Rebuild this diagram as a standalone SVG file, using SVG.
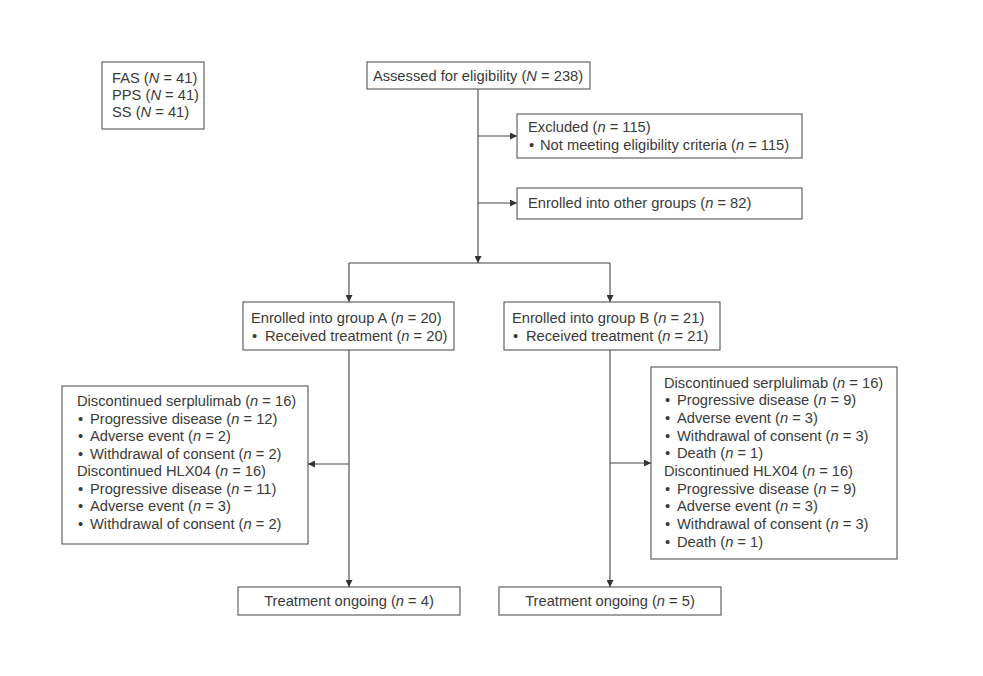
<svg xmlns="http://www.w3.org/2000/svg" width="983" height="676" viewBox="0 0 983 676">
<style>
.box{fill:#fff;stroke:#555;stroke-width:1.1}
text{font-family:"Liberation Sans",Arial,sans-serif;font-size:14.7px;fill:#3a3a3a}
.i{font-style:italic}
.c{text-anchor:middle}
.ln{fill:none;stroke:#444;stroke-width:1.1}
</style>
<defs>
<marker id="ah" viewBox="0 0 10 10" refX="10" refY="5" markerWidth="7" markerHeight="7" markerUnits="userSpaceOnUse" orient="auto">
<path d="M0,0 L10,5 L0,10 z" fill="#333"/>
</marker>
</defs>
<rect width="983" height="676" fill="#fff"/>

<g id="connectors">
<path class="ln" d="M478,89 V263" marker-end="url(#ah)"/>
<path class="ln" d="M349,263 H610"/>
<path class="ln" d="M349,263 V302" marker-end="url(#ah)"/>
<path class="ln" d="M610,263 V302" marker-end="url(#ah)"/>
<path class="ln" d="M478,136 H517" marker-end="url(#ah)"/>
<path class="ln" d="M478,203 H517" marker-end="url(#ah)"/>
<path class="ln" d="M349,350 V587" marker-end="url(#ah)"/>
<path class="ln" d="M349,464 H308" marker-end="url(#ah)"/>
<path class="ln" d="M610,350 V587" marker-end="url(#ah)"/>
<path class="ln" d="M610,463 H651" marker-end="url(#ah)"/>
</g>

<g id="sets">
<rect class="box" x="102" y="62" width="102" height="67"/>
<text x="112" y="83">FAS (<tspan class="i">N</tspan> = 41)</text>
<text x="112" y="100">PPS (<tspan class="i">N</tspan> = 41)</text>
<text x="112" y="117">SS (<tspan class="i">N</tspan> = 41)</text>
</g>

<g id="assessed">
<rect class="box" x="367" y="62" width="223" height="27"/>
<text x="478" y="81" class="c">Assessed for eligibility (<tspan class="i">N</tspan> = 238)</text>
</g>

<g id="excluded">
<rect class="box" x="517" y="114" width="285" height="44"/>
<text x="528" y="132">Excluded (<tspan class="i">n</tspan> = 115)</text>
<text x="529" y="150">•</text><text x="540" y="150">Not meeting eligibility criteria (<tspan class="i">n</tspan> = 115)</text>
</g>

<g id="other">
<rect class="box" x="517" y="188" width="285" height="31"/>
<text x="528" y="208">Enrolled into other groups (<tspan class="i">n</tspan> = 82)</text>
</g>

<g id="groupA">
<rect class="box" x="243" y="302" width="211" height="48"/>
<text x="251" y="323">Enrolled into group A (<tspan class="i">n</tspan> = 20)</text>
<text x="252" y="341">•</text><text x="265" y="341">Received treatment (<tspan class="i">n</tspan> = 20)</text>
</g>

<g id="groupB">
<rect class="box" x="504" y="302" width="216" height="48"/>
<text x="512" y="323">Enrolled into group B (<tspan class="i">n</tspan> = 21)</text>
<text x="513" y="341">•</text><text x="526" y="341">Received treatment (<tspan class="i">n</tspan> = 21)</text>
</g>

<g id="discA">
<rect class="box" x="62" y="386" width="246" height="158"/>
<text x="77" y="406">Discontinued serplulimab (<tspan class="i">n</tspan> = 16)</text>
<text x="78" y="423.5">•</text><text x="90" y="423.5">Progressive disease (<tspan class="i">n</tspan> = 12)</text>
<text x="78" y="441">•</text><text x="90" y="441">Adverse event (<tspan class="i">n</tspan> = 2)</text>
<text x="78" y="458.5">•</text><text x="90" y="458.5">Withdrawal of consent (<tspan class="i">n</tspan> = 2)</text>
<text x="77" y="476">Discontinued HLX04 (<tspan class="i">n</tspan> = 16)</text>
<text x="78" y="493.5">•</text><text x="90" y="493.5">Progressive disease (<tspan class="i">n</tspan> = 11)</text>
<text x="78" y="511">•</text><text x="90" y="511">Adverse event (<tspan class="i">n</tspan> = 3)</text>
<text x="78" y="528.5">•</text><text x="90" y="528.5">Withdrawal of consent (<tspan class="i">n</tspan> = 2)</text>
</g>

<g id="discB">
<rect class="box" x="651" y="367" width="246" height="192"/>
<text x="664" y="387.5">Discontinued serplulimab (<tspan class="i">n</tspan> = 16)</text>
<text x="665" y="405">•</text><text x="677" y="405">Progressive disease (<tspan class="i">n</tspan> = 9)</text>
<text x="665" y="423">•</text><text x="677" y="423">Adverse event (<tspan class="i">n</tspan> = 3)</text>
<text x="665" y="440.5">•</text><text x="677" y="440.5">Withdrawal of consent (<tspan class="i">n</tspan> = 3)</text>
<text x="665" y="458">•</text><text x="677" y="458">Death (<tspan class="i">n</tspan> = 1)</text>
<text x="664" y="476">Discontinued HLX04 (<tspan class="i">n</tspan> = 16)</text>
<text x="665" y="493.5">•</text><text x="677" y="493.5">Progressive disease (<tspan class="i">n</tspan> = 9)</text>
<text x="665" y="511">•</text><text x="677" y="511">Adverse event (<tspan class="i">n</tspan> = 3)</text>
<text x="665" y="529">•</text><text x="677" y="529">Withdrawal of consent (<tspan class="i">n</tspan> = 3)</text>
<text x="665" y="546.5">•</text><text x="677" y="546.5">Death (<tspan class="i">n</tspan> = 1)</text>
</g>

<g id="ongoingA">
<rect class="box" x="238" y="587" width="222" height="28"/>
<text x="349" y="606" class="c">Treatment ongoing (<tspan class="i">n</tspan> = 4)</text>
</g>

<g id="ongoingB">
<rect class="box" x="499" y="587" width="222" height="28"/>
<text x="610" y="606" class="c">Treatment ongoing (<tspan class="i">n</tspan> = 5)</text>
</g>
</svg>
